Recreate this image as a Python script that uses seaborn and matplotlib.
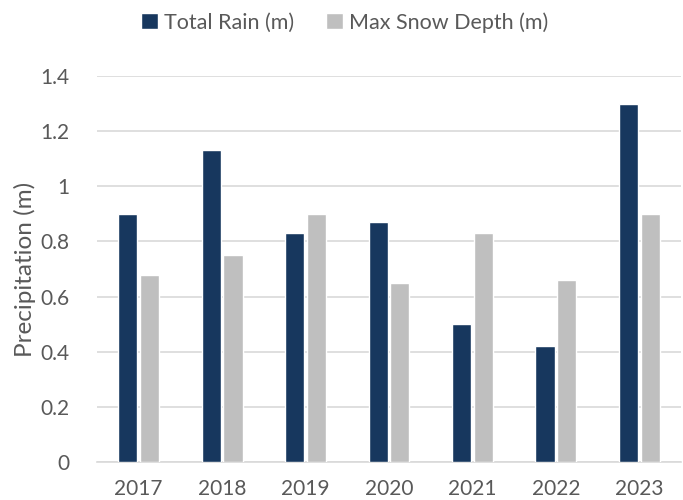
import matplotlib
matplotlib.use("Agg")
import matplotlib.pyplot as plt
import seaborn as sns
import pandas as pd

years = ["2017", "2018", "2019", "2020", "2021", "2022", "2023"]
total_rain = [0.90, 1.13, 0.83, 0.87, 0.50, 0.42, 1.30]
max_snow = [0.68, 0.75, 0.90, 0.65, 0.83, 0.66, 0.90]
series_names = ["Total Rain (m)", "Max Snow Depth (m)"]
y_ticks = [0, 0.2, 0.4, 0.6, 0.8, 1.0, 1.2, 1.4]
y_tick_labels = ["0", "0.2", "0.4", "0.6", "0.8", "1", "1.2", "1.4"]

df = pd.DataFrame({
    "Year": years * 2,
    "Value": total_rain + max_snow,
    "Series": [series_names[0]] * len(years) + [series_names[1]] * len(years),
})

sns.set_theme(style="white")
plt.rcParams["font.family"] = ["Lato", "DejaVu Sans"]
text_color = "#595959"
grid_color = "#d9d9d9"

fig = plt.figure(figsize=(6.83, 5.0), dpi=100)
ax = fig.add_axes([0.142, 0.076, 0.855, 0.772])

sns.barplot(
    data=df, x="Year", y="Value", hue="Series",
    palette=["#17375e", "#bfbfbf"], width=0.52, gap=0.12,
    saturation=1, ax=ax, zorder=3,
)

ax.set_ylim(0, 1.4)
ax.set_yticks(y_ticks)
ax.set_yticklabels(y_tick_labels)
ax.yaxis.grid(True, color=grid_color, linewidth=1.2, zorder=0)
ax.set_axisbelow(True)
for side in ["left", "right", "top"]:
    ax.spines[side].set_visible(False)
ax.spines["bottom"].set_color(grid_color)
ax.spines["bottom"].set_linewidth(1.2)
ax.tick_params(axis="both", length=0, labelsize=15, colors=text_color)
ax.tick_params(axis="y", pad=20)
ax.tick_params(axis="x", pad=12)
ax.set_xlabel("")
ax.set_ylabel("Precipitation (m)", fontsize=17.5, color=text_color, labelpad=3)

handles, labels = ax.get_legend_handles_labels()
ax.get_legend().remove()
fig.legend(
    handles, labels, loc="center", bbox_to_anchor=(0.505, 0.955),
    ncol=2, frameon=False, fontsize=15.5, labelcolor=text_color,
    handlelength=0.75, handleheight=0.75, handletextpad=0.3, columnspacing=1.5,
)

fig.savefig("out.png", dpi=100)
